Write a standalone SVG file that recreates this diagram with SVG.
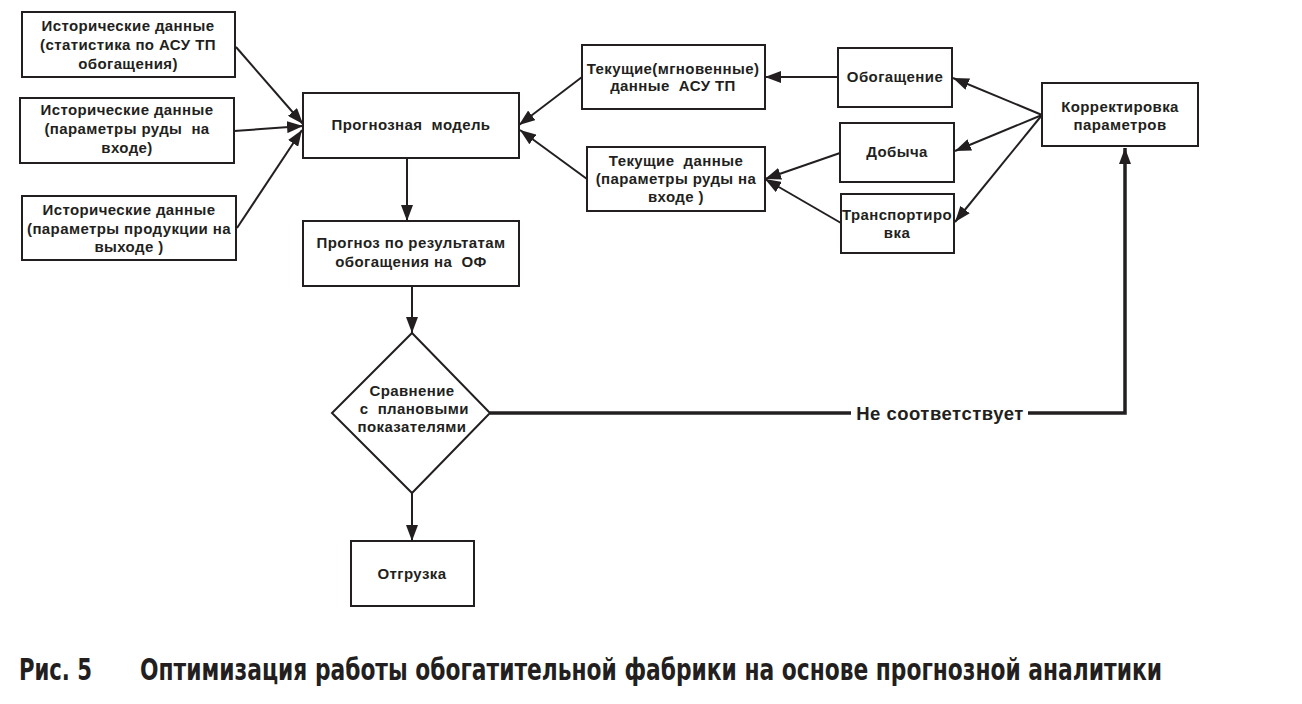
<svg xmlns="http://www.w3.org/2000/svg" width="1302" height="704" viewBox="0 0 1302 704">
<defs>
<style>
.box{fill:#fff;stroke:#231f20;stroke-width:2}
.t{font-family:"Liberation Sans",Arial,sans-serif;font-weight:bold;font-size:15px;letter-spacing:0.4px;fill:#231f20;text-anchor:middle;white-space:pre}
.c{stroke:#231f20;stroke-width:2;fill:none}
.thick{stroke:#231f20;stroke-width:3.5;fill:none}
.cap{font-family:"Liberation Sans Narrow","DejaVu Sans Condensed","Liberation Sans",sans-serif;font-weight:bold;font-size:27px;fill:#231f20}
</style>
<marker id="ah" viewBox="0 0 16 12" refX="16" refY="6" markerWidth="16" markerHeight="12" markerUnits="userSpaceOnUse" orient="auto">
<path d="M0,0 L16,6 L0,12 Z" fill="#231f20"/>
</marker>
</defs>
<rect width="1302" height="704" fill="#fff"/>

<g id="hist1"><rect class="box" x="22" y="12" width="213" height="65"/>
<text class="t" x="128" y="31">Исторические данные</text><text class="t" x="128" y="50">(статистика по АСУ ТП</text><text class="t" x="128" y="69">обогащения)</text></g>
<g id="hist2"><rect class="box" x="20" y="98" width="214" height="65"/>
<text class="t" x="127" y="115">Исторические данные</text><text class="t" x="127" y="134">(параметры руды  на</text><text class="t" x="127" y="153">входе)</text></g>
<g id="hist3"><rect class="box" x="22" y="196" width="214" height="64"/>
<text class="t" x="129" y="215">Исторические данные</text><text class="t" x="129" y="234" textLength="204" lengthAdjust="spacingAndGlyphs">(параметры продукции на</text><text class="t" x="129" y="252">выходе )</text></g>

<g id="model"><rect class="box" x="303" y="93" width="216" height="65"/>
<text class="t" x="411" y="130">Прогнозная  модель</text></g>
<g id="forecast"><rect class="box" x="303" y="221" width="216" height="65"/>
<text class="t" x="411" y="248">Прогноз по результатам</text><text class="t" x="411" y="267">обогащения на  ОФ</text></g>

<g id="compare"><polygon class="box" points="412,333 490,413 412,493 332,413"/>
<text class="t" x="412" y="396">Сравнение</text><text class="t" x="412" y="414"> с  плановыми</text><text class="t" x="412" y="432">показателями</text></g>
<g id="ship"><rect class="box" x="351" y="541" width="123" height="65"/>
<text class="t" x="412" y="579">Отгрузка</text></g>

<g id="current1"><rect class="box" x="582" y="45" width="183" height="64"/>
<text class="t" x="673" y="74">Текущие(мгновенные)</text><text class="t" x="673" y="91">данные  АСУ ТП</text></g>
<g id="current2"><rect class="box" x="587" y="147" width="178" height="64"/>
<text class="t" x="676" y="166">Текущие  данные</text><text class="t" x="676" y="184">(параметры руды на</text><text class="t" x="676" y="202">входе )</text></g>

<g id="enrich"><rect class="box" x="838" y="48" width="114" height="59"/>
<text class="t" x="895" y="82">Обогащение</text></g>
<g id="mining"><rect class="box" x="840" y="123" width="114" height="59"/>
<text class="t" x="897" y="157">Добыча</text></g>
<g id="transport"><rect class="box" x="841" y="194" width="113" height="59"/>
<text class="t" x="897" y="220" textLength="110" lengthAdjust="spacingAndGlyphs">Транспортиро</text><text class="t" x="897" y="238">вка</text></g>

<g id="correct"><rect class="box" x="1042" y="83" width="156" height="63"/>
<text class="t" x="1120" y="112">Корректировка</text><text class="t" x="1120" y="130">параметров</text></g>

<g id="connectors">
<line class="c" x1="236" y1="47" x2="303" y2="124" marker-end="url(#ah)"/>
<line class="c" x1="234" y1="131" x2="303" y2="126" marker-end="url(#ah)"/>
<line class="c" x1="237" y1="228" x2="302" y2="130" marker-end="url(#ah)"/>
<line class="c" x1="407" y1="158" x2="407" y2="221" marker-end="url(#ah)"/>
<line class="c" x1="412" y1="286" x2="412" y2="333" marker-end="url(#ah)"/>
<line class="c" x1="412" y1="493" x2="412" y2="541" marker-end="url(#ah)"/>
<line class="c" x1="582" y1="77" x2="519" y2="125" marker-end="url(#ah)"/>
<line class="c" x1="587" y1="179" x2="520" y2="130" marker-end="url(#ah)"/>
<line class="c" x1="838" y1="77" x2="765" y2="77" marker-end="url(#ah)"/>
<line class="c" x1="840" y1="153" x2="765" y2="179" marker-end="url(#ah)"/>
<line class="c" x1="841" y1="223" x2="765" y2="179" marker-end="url(#ah)"/>
<line class="c" x1="1042" y1="115" x2="953" y2="78" marker-end="url(#ah)"/>
<line class="c" x1="1042" y1="115" x2="955" y2="151" marker-end="url(#ah)"/>
<line class="c" x1="1042" y1="115" x2="955" y2="222" marker-end="url(#ah)"/>
<polyline class="thick" points="490,413 851,413"/>
<polyline class="thick" points="1028,413 1125,413 1125,148" marker-end="url(#ah)"/>
<text class="t" x="940" y="420" style="font-size:18.5px;letter-spacing:0.5px">Не соответствует</text>
</g>

<text class="cap" transform="translate(19,680) scale(1,1.12)" x="0" y="0" textLength="73" lengthAdjust="spacingAndGlyphs">Рис. 5</text>
<text class="cap" transform="translate(140,680) scale(1,1.12)" x="0" y="0" textLength="1022" lengthAdjust="spacingAndGlyphs">Оптимизация работы обогатительной фабрики на основе прогнозной аналитики</text>
</svg>
